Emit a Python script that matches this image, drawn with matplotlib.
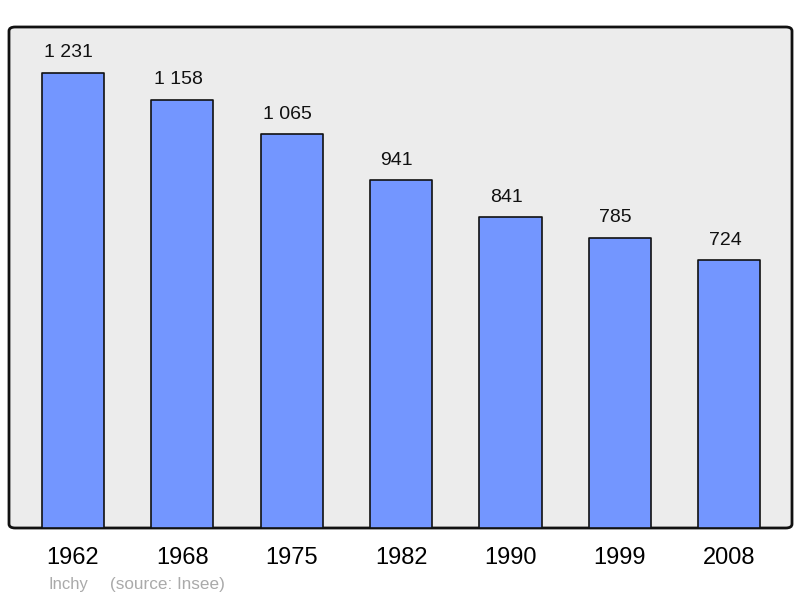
import matplotlib.pyplot as plt
from matplotlib.patches import FancyBboxPatch

years = ["1962", "1968", "1975", "1982", "1990", "1999", "2008"]
population = [1231, 1158, 1065, 941, 841, 785, 724]
labels = ["1 231", "1 158", "1 065", "941", "841", "785", "724"]

plt.rcParams['font.family'] = ['Liberation Sans', 'DejaVu Sans']

fig = plt.figure(figsize=(8, 5.98), dpi=100)
ax = fig.add_axes([9 / 800, 1 - 528 / 598, 783 / 800, 501 / 598])
ax.set_facecolor('none')

# rounded frame behind the bars
frame = FancyBboxPatch((0, 0), 1, 1,
                       boxstyle="round,pad=0,rounding_size=0.008",
                       transform=ax.transAxes, facecolor='#ececec',
                       edgecolor='#111111', linewidth=2, zorder=0, clip_on=False)
ax.add_patch(frame)

x = range(len(years))
bars = ax.bar(x, population, width=0.57, color='#7396ff', edgecolor='#111111',
              linewidth=1.2, joinstyle='round', zorder=2)
for b, lab in zip(bars, labels):
    ax.annotate(lab, (b.get_x() + b.get_width() / 2, b.get_height()),
                xytext=(-3, 8), textcoords='offset points', ha='center',
                va='bottom', fontsize=14, color='#111111')

ax.set_xlim(-0.585, 6.575)
ax.set_ylim(0, max(population) * 1.1)
ax.set_xticks(list(x))
ax.set_xticklabels(years, fontsize=17)
ax.tick_params(axis='x', length=0, pad=14)
ax.set_yticks([])
for s in ax.spines.values():
    s.set_visible(False)

fig.text(49 / 800, 1 - 584 / 598, "Inchy", fontsize=12, color='#aaaaaa', va='center')
fig.text(110 / 800, 1 - 584 / 598, "(source: Insee)", fontsize=12.3, color='#aaaaaa', va='center')

fig.savefig('out.png', dpi=100)
